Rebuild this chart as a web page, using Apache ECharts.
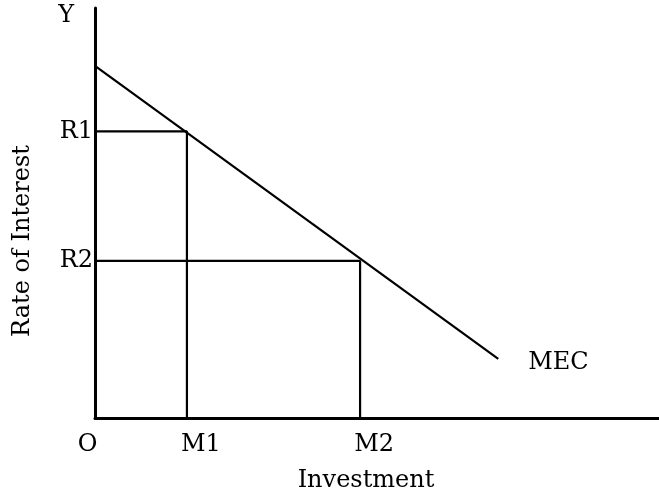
<!DOCTYPE html>
<html>
<head>
<meta charset="utf-8">
<script src="https://cdn.jsdelivr.net/npm/echarts@6/dist/echarts.min.js"></script>
<style>
  html, body { margin: 0; padding: 0; background: #fff; }
  #chart { width: 659px; height: 495px; }
</style>
</head>
<body>
<div id="chart"></div>
<script>
// axis ranges (arbitrary units)
const xMax = 100;
const yMax = 100;

// investment levels and interest rates
const xTicks = [0, 16.3, 47.0];
const xTickLabels = ["O", "M1", "M2"];
const yTicks = [38.3, 69.9, 98];
const yTickLabels = ["R2", "R1", "Y"];

// MEC curve end points
const mecX = [0, 71.5];
const mecY = [85.9, 14.4];

const FONT = "DejaVu Serif";
const FS = 24;

var myChart = echarts.init(document.getElementById("chart"));

function dropLine(x, y) {
  // horizontal from y axis, then vertical down to x axis
  return [[0, y], [x, y], [x, 0]];
}

var option = {
  animation: false,
  backgroundColor: "#fff",
  grid: { left: 95, right: 0, top: 8, bottom: 77, containLabel: false, outerBoundsMode: "none" },
  xAxis: {
    type: "value",
    min: 0,
    max: xMax,
    name: "Investment",
    nameLocation: "middle",
    nameGap: 51,
    nameTextStyle: { fontFamily: FONT, fontSize: FS, color: "#000", padding: [0, 22, 0, 0] },
    axisLine: { show: true, lineStyle: { color: "#000", width: 3 } },
    axisTick: { show: false },
    splitLine: { show: false },
    axisLabel: {
      customValues: xTicks,
      margin: 15,
      formatter: function (v) {
        var i = xTicks.indexOf(v);
        var t = i >= 0 ? xTickLabels[i] : "";
        return i === 0 ? "{o|" + t + "}" : "{m|" + t + "}";
      },
      rich: {
        o: { fontFamily: FONT, fontSize: FS, color: "#000", padding: [0, 15, 0, 0] },
        m: { fontFamily: FONT, fontSize: FS, color: "#000", padding: [0, 0, 0, 28] }
      }
    }
  },
  yAxis: {
    type: "value",
    min: 0,
    max: yMax,
    name: "Rate of Interest",
    nameLocation: "middle",
    nameRotate: 90,
    nameGap: 60,
    nameTextStyle: { fontFamily: FONT, fontSize: FS, color: "#000", padding: [0, 56, 0, 0] },
    axisLine: { show: true, lineStyle: { color: "#000", width: 3 } },
    axisTick: { show: false },
    splitLine: { show: false },
    axisLabel: {
      customValues: yTicks,
      margin: 2,
      formatter: function (v) {
        var i = yTicks.indexOf(v);
        var t = i >= 0 ? yTickLabels[i] : "";
        return t === "Y" ? "{y|" + t + "}" : "{r|" + t + "}";
      },
      rich: {
        r: { fontFamily: FONT, fontSize: FS, color: "#000" },
        y: { fontFamily: FONT, fontSize: FS, color: "#000", padding: [0, 19, 0, 0] }
      }
    }
  },
  series: [
    {
      name: "MEC",
      type: "line",
      symbol: "none",
      lineStyle: { color: "#000", width: 2.2 },
      data: [[mecX[0], mecY[0]], [mecX[1], mecY[1]]],
      endLabel: {
        show: true,
        formatter: "MEC",
        distance: 30,
        offset: [0, 4],
        fontFamily: FONT,
        fontSize: FS,
        color: "#000"
      }
    },
    {
      name: "R1M1",
      type: "line",
      symbol: "none",
      lineStyle: { color: "#000", width: 2.2 },
      data: dropLine(xTicks[1], yTicks[1])
    },
    {
      name: "R2M2",
      type: "line",
      symbol: "none",
      lineStyle: { color: "#000", width: 2.2 },
      data: dropLine(xTicks[2], yTicks[0])
    }
  ]
};

myChart.setOption(option);
</script>
</body>
</html>
